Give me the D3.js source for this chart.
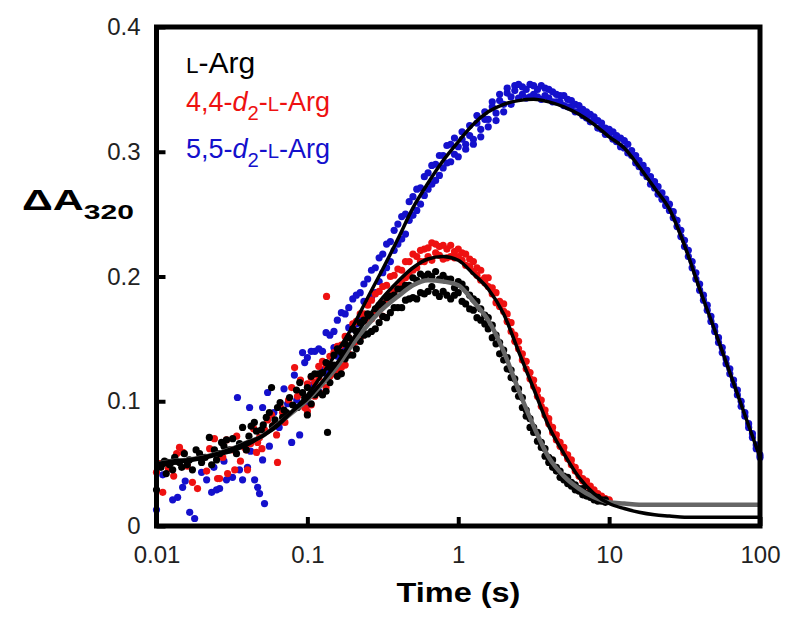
<!DOCTYPE html>
<html><head><meta charset="utf-8">
<script src="https://cdn.jsdelivr.net/npm/d3@7"></script>
<style>body{margin:0;background:#fff}svg{display:block}</style>
</head><body><svg id="c" width="800" height="628"></svg>
<script>
// ---- tick labels ----
const xTicks = [0.01, 0.1, 1, 10, 100];
const xTickLabels = ["0.01", "0.1", "1", "10", "100"];
const yTicks = [0, 0.1, 0.2, 0.3, 0.4];
const yTickLabels = ["0", "0.1", "0.2", "0.3", "0.4"];

// ---- early (sparse) points, explicit time/value pairs ----
const blackEarlyT = [0.0100,0.0103,0.0107,0.0110,0.0113,0.0116,0.0118,0.0122,0.0125,0.0128,0.0132,0.0135,0.0142,0.0147,0.0153,0.0160,0.0165,0.0173,0.0183,0.0193,0.0199,0.0210,0.0224,0.0232,0.0242,0.0250,0.0262,0.0270,0.0280,0.0291,0.0305,0.0320,0.0339,0.0355,0.0372,0.0394,0.0410,0.0424,0.0445,0.0460,0.0495,0.0510,0.0534,0.0560,0.0579,0.0587,0.0610,0.0634,0.0660,0.0685,0.0700,0.0728,0.0762,0.0800,0.0847,0.0860,0.0890,0.0929,0.0960,0.136];
const blackEarlyV = [0.029,0.048,0.047,0.050,0.052,0.042,0.051,0.049,0.051,0.045,0.055,0.052,0.051,0.047,0.058,0.049,0.053,0.045,0.061,0.058,0.051,0.055,0.071,0.049,0.061,0.053,0.058,0.067,0.064,0.069,0.061,0.070,0.058,0.066,0.079,0.061,0.072,0.080,0.083,0.076,0.077,0.081,0.087,0.091,0.111,0.080,0.085,0.095,0.099,0.087,0.093,0.091,0.103,0.097,0.109,0.095,0.115,0.107,0.103,0.075];
const redEarlyT = [0.0100,0.0105,0.0110,0.0120,0.0130,0.0136,0.0142,0.0150,0.0160,0.0173,0.0187,0.0195,0.0215,0.0225,0.0242,0.0254,0.0262,0.0275,0.0291,0.0296,0.0319,0.0330,0.0340,0.0360,0.0384,0.0394,0.0401,0.0420,0.0440,0.0460,0.0468,0.0482,0.0500,0.0520,0.0545,0.0579,0.0600,0.0625,0.0634,0.0660,0.0685,0.0710,0.0750,0.0787,0.0823,0.0860,0.0900,0.0959,0.134];
const redEarlyV = [0.043,0.050,0.027,0.046,0.040,0.058,0.063,0.059,0.048,0.035,0.030,0.055,0.044,0.062,0.070,0.038,0.038,0.055,0.069,0.042,0.061,0.045,0.072,0.052,0.063,0.061,0.045,0.066,0.078,0.059,0.067,0.071,0.062,0.077,0.085,0.089,0.081,0.073,0.051,0.096,0.091,0.083,0.101,0.111,0.127,0.104,0.117,0.095,0.184];
const blueEarlyT = [0.0100,0.0110,0.0128,0.0138,0.0149,0.0155,0.0166,0.0179,0.0199,0.0215,0.0232,0.0240,0.0250,0.0262,0.0280,0.0291,0.0319,0.0344,0.0355,0.0372,0.0401,0.0414,0.0420,0.0447,0.0468,0.0482,0.0505,0.0505,0.0520,0.0545,0.0560,0.0600,0.0650,0.0700,0.0740,0.0787,0.0820,0.0850,0.0889,0.0929,0.0960];
const blueEarlyV = [0.013,0.041,0.021,0.023,0.031,0.036,0.011,0.006,0.043,0.037,0.027,0.047,0.029,0.030,0.052,0.037,0.039,0.103,0.045,0.037,0.047,0.095,0.060,0.037,0.031,0.026,0.095,0.053,0.018,0.107,0.064,0.091,0.079,0.110,0.098,0.067,0.121,0.101,0.073,0.139,0.131];

// ---- dense points on a shared time grid (s), two sweeps per series ----
const tGrid = [0.100,0.106,0.112,0.119,0.126,0.133,0.141,0.150,0.158,0.168,0.178,0.188,0.200,0.211,0.224,0.237,0.251,0.266,0.282,0.299,0.316,0.335,0.355,0.376,0.398,0.422,0.447,0.473,0.501,0.531,0.562,0.596,0.631,0.668,0.708,0.750,0.794,0.841,0.891,0.944,
1.00,1.06,1.12,1.19,1.26,1.33,1.41,1.50,1.58,1.68,1.78,1.88,2.00,2.11,2.24,2.37,2.51,2.66,2.82,2.99,3.16,3.35,3.55,3.76,3.98,4.22,4.47,4.73,5.01,5.31,5.62,5.96,6.31,6.68,7.08,7.50,7.94,8.41,8.91,9.44,
10.0,10.6,11.2,11.9,12.6,13.3,14.1,15.0,15.8,16.8,17.8,18.8,20.0,21.1,22.4,23.7,25.1,26.6,28.2,29.9,31.6,33.5,35.5,37.6,39.8,42.2,44.7,47.3,50.1,53.1,56.2,59.6,63.1,66.8,70.8,75.0,79.4,84.1,89.1,94.4,100];
const blackV = [0.111,0.098,0.122,0.107,0.123,0.108,0.127,0.137,0.120,0.139,0.134,0.151,0.137,0.156,0.148,0.165,0.154,0.168,0.158,0.177,0.168,0.183,0.171,0.185,0.175,0.190,0.181,0.193,0.183,0.197,0.187,0.200,0.188,0.200,0.187,0.198,0.188,0.198,0.182,0.191,
0.187,0.194,0.178,0.185,0.173,0.180,0.165,0.169,0.158,0.161,0.146,0.147,0.133,0.135,0.119,0.118,0.104,0.103,0.088,0.086,0.075,0.075,0.063,0.062,0.051,0.053,0.044,0.044,0.037,0.039,0.032,0.033,0.028,0.030,0.024,0.026,0.021,0.023,0.020,0.021];
const blackV2 = [0.089,0.120,0.105,0.122,0.105,0.131,0.115,0.129,0.142,0.122,0.146,0.137,0.158,0.142,0.163,0.153,0.170,0.156,0.174,0.163,0.178,0.167,0.184,0.175,0.190,0.175,0.193,0.182,0.199,0.182,0.202,0.186,0.202,0.192,0.204,0.184,0.201,0.185,0.198,0.185,
0.196,0.180,0.190,0.174,0.182,0.167,0.174,0.162,0.167,0.151,0.153,0.138,0.141,0.126,0.125,0.110,0.110,0.095,0.093,0.079,0.079,0.068,0.067,0.056,0.055,0.047,0.047,0.039,0.040,0.034,0.035,0.029,0.030,0.025,0.026,0.023,0.023,0.020,0.021,0.019];
const redV = [0.114,0.097,0.115,0.128,0.106,0.128,0.120,0.139,0.124,0.145,0.129,0.151,0.146,0.164,0.151,0.170,0.164,0.181,0.170,0.188,0.168,0.193,0.185,0.201,0.191,0.205,0.199,0.212,0.205,0.216,0.212,0.222,0.216,0.227,0.219,0.224,0.214,0.222,0.216,0.220,
0.216,0.219,0.209,0.214,0.204,0.207,0.197,0.199,0.192,0.191,0.179,0.180,0.172,0.170,0.156,0.153,0.142,0.138,0.126,0.123,0.112,0.109,0.096,0.093,0.082,0.079,0.069,0.067,0.059,0.057,0.049,0.047,0.040,0.038,0.032,0.032,0.026,0.026,0.022,0.022,
0.020];
const redV2 = [0.092,0.119,0.104,0.119,0.132,0.111,0.136,0.122,0.144,0.127,0.152,0.138,0.162,0.148,0.170,0.154,0.177,0.166,0.186,0.173,0.192,0.180,0.200,0.188,0.206,0.195,0.212,0.201,0.218,0.207,0.221,0.212,0.223,0.213,0.226,0.217,0.225,0.215,0.225,0.215,
0.222,0.213,0.218,0.208,0.212,0.201,0.205,0.195,0.199,0.186,0.187,0.176,0.178,0.164,0.163,0.148,0.148,0.133,0.132,0.118,0.117,0.104,0.101,0.089,0.086,0.075,0.073,0.064,0.063,0.054,0.053,0.044,0.043,0.036,0.036,0.030,0.029,0.024,0.024,0.020,
0.021];
const blueV = [0.135,0.113,0.140,0.108,0.140,0.122,0.153,0.143,0.165,0.139,0.170,0.159,0.182,0.162,0.187,0.180,0.198,0.183,0.207,0.196,0.218,0.207,0.228,0.221,0.242,0.230,0.250,0.245,0.264,0.253,0.271,0.265,0.283,0.274,0.290,0.281,0.297,0.291,0.306,0.298,
0.304,0.316,0.306,0.321,0.310,0.323,0.312,0.326,0.320,0.336,0.325,0.341,0.332,0.347,0.338,0.353,0.343,0.352,0.343,0.354,0.346,0.350,0.342,0.351,0.343,0.348,0.340,0.345,0.337,0.342,0.336,0.338,0.332,0.334,0.327,0.330,0.324,0.325,0.318,0.319,
0.314,0.316,0.308,0.311,0.303,0.306,0.297,0.297,0.288,0.289,0.280,0.280,0.271,0.272,0.262,0.262,0.253,0.252,0.240,0.237,0.224,0.221,0.207,0.203,0.189,0.185,0.173,0.168,0.156,0.151,0.139,0.134,0.122,0.117,0.105,0.100,0.088,0.082,0.071,0.065,
0.055];
const blueV2 = [0.097,0.140,0.111,0.142,0.125,0.155,0.123,0.156,0.136,0.171,0.143,0.175,0.158,0.185,0.165,0.194,0.178,0.205,0.187,0.215,0.203,0.226,0.212,0.237,0.226,0.248,0.234,0.260,0.249,0.270,0.258,0.280,0.270,0.289,0.277,0.297,0.287,0.305,0.292,0.311,
0.296,0.310,0.302,0.313,0.306,0.329,0.318,0.332,0.326,0.340,0.331,0.346,0.338,0.351,0.344,0.349,0.354,0.346,0.350,0.344,0.353,0.344,0.353,0.345,0.350,0.340,0.346,0.340,0.345,0.336,0.341,0.332,0.337,0.329,0.332,0.324,0.328,0.319,0.323,0.314,
0.318,0.310,0.313,0.304,0.309,0.299,0.301,0.291,0.293,0.283,0.285,0.274,0.276,0.266,0.267,0.257,0.258,0.247,0.245,0.232,0.229,0.216,0.212,0.198,0.194,0.181,0.177,0.164,0.160,0.147,0.143,0.130,0.126,0.113,0.109,0.096,0.091,0.079,0.074,0.062,
0.057];

// ---- fitted curves ----
const fitT = [0.0100,0.0126,0.0158,0.0200,0.0251,0.0316,0.0398,0.0501,0.0631,0.0794,0.100,0.126,0.158,0.200,0.251,0.316,0.398,0.501,0.631,0.794,1.00,1.26,1.58,2.00,2.51,3.16,3.98,5.01,6.31,7.94,10.0,12.6,15.8,20.0,25.1,31.6,39.8,50.1,63.1,79.4,100];
const fitGrey = [0.050,0.052,0.053,0.055,0.058,0.062,0.067,0.072,0.081,0.091,0.101,0.114,0.128,0.146,0.161,0.174,0.184,0.193,0.197,0.196,0.193,0.180,0.165,0.140,0.109,0.080,0.055,0.040,0.030,0.023,0.019,0.018,0.017,0.017,0.017,0.017,0.017,0.017,0.017,0.017,0.017];
const fitRed = [0.050,0.052,0.053,0.055,0.058,0.062,0.067,0.072,0.081,0.092,0.102,0.116,0.131,0.150,0.167,0.183,0.196,0.207,0.214,0.216,0.213,0.202,0.190,0.170,0.140,0.110,0.080,0.058,0.039,0.026,0.018,0.014,0.011,0.009,0.008,0.007,0.007,0.007,0.007,0.007,0.007];
const fitBlue = [0.048,0.050,0.052,0.054,0.057,0.060,0.065,0.072,0.080,0.092,0.105,0.122,0.140,0.160,0.183,0.206,0.230,0.255,0.275,0.293,0.308,0.322,0.332,0.338,0.341,0.342,0.340,0.336,0.330,0.322,0.312,0.303,0.288,0.271,0.254,0.225,0.190,0.157,0.123,0.089,0.055];

// ---- drawing ----
const svg = d3.select("#c");
const FONT = "'Liberation Sans', Arial, Helvetica, sans-serif";
const x = d3.scaleLog().domain([0.01, 100]).range([156.5, 760]);
const y = d3.scaleLinear().domain([0, 0.4]).range([526, 27]);

const BLUE = "#1410cc", RED = "#ee1111", BLACK = "#000";

function pts(tE, vE, vGs) {
  const a = tE.map((t, i) => [t, vE[i]]);
  vGs.forEach(vG => vG.forEach((v, i) => a.push([tGrid[i], v])));
  return a;
}
const sets = [
  {pts: pts(blueEarlyT, blueEarlyV, [blueV, blueV2]), c: BLUE},
  {pts: pts(redEarlyT, redEarlyV, [redV, redV2]), c: RED},
  {pts: pts(blackEarlyT, blackEarlyV, [blackV, blackV2]), c: BLACK}
];
sets.forEach(s => {
  svg.append("g").selectAll("circle").data(s.pts).join("circle")
    .attr("cx", d => x(d[0])).attr("cy", d => y(d[1])).attr("r", 3.6).attr("fill", s.c);
});

const line = d3.line().x(d => x(d[0])).y(d => y(d[1])).curve(d3.curveMonotoneX);
const mk = arr => fitT.map((t, i) => [t, arr[i]]);
svg.append("path").attr("d", line(mk(fitGrey))).attr("fill", "none").attr("stroke", "#666").attr("stroke-width", 4.5);
svg.append("path").attr("d", line(mk(fitRed))).attr("fill", "none").attr("stroke", "#000").attr("stroke-width", 3.5);
svg.append("path").attr("d", line(mk(fitBlue))).attr("fill", "none").attr("stroke", "#000").attr("stroke-width", 3.5);

// axes
const xAxis = d3.axisBottom(x).tickValues(xTicks).tickFormat((d, i) => xTickLabels[i]).tickSize(-9).tickPadding(20);
const gx = svg.append("g").attr("transform", "translate(0,526)").call(xAxis);
const yAxis = d3.axisLeft(y).tickValues(yTicks).tickFormat((d, i) => yTickLabels[i]).tickSize(-9).tickPadding(16);
const gy = svg.append("g").attr("transform", "translate(156.5,0)").call(yAxis);
[gx, gy].forEach(g => {
  g.select(".domain").remove();
  g.selectAll(".tick line").attr("stroke", "#000").attr("stroke-width", 4);
  g.selectAll(".tick text").attr("font-family", FONT).attr("font-size", 24).attr("fill", "#222");
});
svg.append("rect").attr("x", 156.5).attr("y", 27).attr("width", 603.5).attr("height", 499)
  .attr("fill", "none").attr("stroke", "#000").attr("stroke-width", 5);

// axis titles (slightly widened bold lettering, as in the original figure)
function widen(sel, x0, y0, target, anchorMid) {
  const w = sel.node().getComputedTextLength();
  const s = target / w;
  const tx = anchorMid ? x0 - target / 2 : x0;
  sel.attr("x", 0).attr("y", 0).attr("transform", `translate(${tx},${y0}) scale(${s},1)`);
}
const xt = svg.append("text").attr("font-family", FONT).attr("font-weight", "bold").attr("font-size", 28).text("Time (s)");
widen(xt, 458.5, 602, 124, true);
const yl = svg.append("text").attr("font-family", FONT).attr("font-weight", "bold").attr("font-size", 30);
yl.append("tspan").text("ΔA");
yl.append("tspan").attr("font-size", 21).attr("dy", 9).text("320");
widen(yl, 22, 210, 112, false);

// legend
function legend(yb, color, LF, parts) {
  const t = svg.append("text").attr("x", 186).attr("y", yb).attr("font-family", FONT).attr("font-size", LF).attr("fill", color);
  parts.forEach(p => {
    const s = t.append("tspan").text(p.s);
    if (p.small) s.attr("font-size", LF * 0.75);
    if (p.it) s.attr("font-style", "italic");
    if (p.dy) s.attr("dy", p.dy).attr("font-size", LF * 0.75);
    if (p.up) s.attr("dy", p.up);
  });
}
legend(73, BLACK, 30, [{s: "L", small: true}, {s: "-Arg"}]);
legend(111, RED, 27, [{s: "4,4-"}, {s: "d", it: true}, {s: "2", dy: 9}, {s: "-", up: -9}, {s: "L", small: true}, {s: "-Arg"}]);
legend(158, BLUE, 27, [{s: "5,5-"}, {s: "d", it: true}, {s: "2", dy: 9}, {s: "-", up: -9}, {s: "L", small: true}, {s: "-Arg"}]);
</script></body></html>
